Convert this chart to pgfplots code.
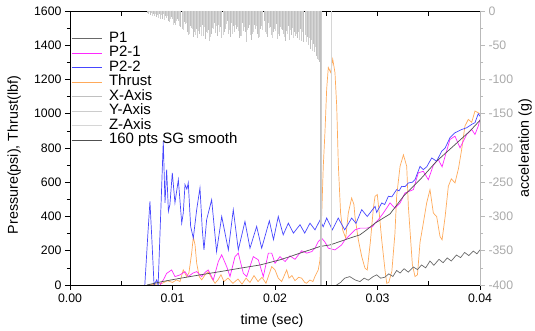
\documentclass[border=0pt]{standalone}
\usepackage{pgfplots}
\pgfplotsset{compat=1.18}
\usepackage{fontspec}
\setmainfont{Liberation Sans}
\definecolor{cPone}{RGB}{105,105,105}
\definecolor{cPtwoone}{RGB}{255,40,255}
\definecolor{cPtwotwo}{RGB}{70,70,255}
\definecolor{cThrust}{RGB}{255,170,90}
\definecolor{cX}{RGB}{192,192,192}
\definecolor{cY}{RGB}{204,204,204}
\definecolor{cZ}{RGB}{214,214,214}
\definecolor{cSG}{RGB}{80,80,80}
\definecolor{cRax}{RGB}{185,185,185}
\definecolor{cRlab}{RGB}{170,170,170}
\newcommand{\tickfont}{\fontsize{12.3}{14}\selectfont}
\newcommand{\labfont}{\fontsize{14.3}{16}\selectfont}
\begin{document}
\begin{tikzpicture}
\pgfplotsset{
  base/.style={scale only axis, width=410pt, height=274pt, xmin=0, xmax=0.04,
    axis line style={-, line width=0.8pt}, scaled x ticks=false},
}
% ---------------- main (left) axis ----------------
\begin{axis}[base, ymin=0, ymax=1600,
  /pgf/number format/assume math mode=true, /pgf/number format/1000 sep={},
  axis x line*=bottom, axis y line*=left,
  xtick={0,0.01,0.02,0.03,0.04},
  xticklabels={0.00,0.01,0.02,0.03,0.04},
  xticklabel style={font=\tickfont},
  ytick={0,200,400,600,800,1000,1200,1400,1600},
  yticklabels={0,200,400,600,800,1000,1200,1400,1600},
  minor ytick={100,300,500,700,900,1100,1300,1500},
  yticklabel style={font=\tickfont},
  tick align=outside, major tick length=5pt, minor tick length=3pt,
  every tick/.style={black, line width=0.6pt},
  xlabel={time (sec)}, ylabel={Pressure(psi), Thrust(lbf)},
  xlabel style={font=\labfont, at={(axis description cs:0.493,-0.131)}, anchor=center},
  ylabel style={font=\labfont, at={(axis description cs:-0.136,0.474)}, anchor=center},
]
% Thrust
\addplot[color=cThrust, line width=0.7pt] coordinates {
(0.0078,0) (0.0090,10) (0.0095,25) (0.0100,15) (0.0104,30) (0.01073,20) (0.01105,88) (0.01138,49)
(0.0116,70) (0.01187,186) (0.01203,280) (0.0122,234) (0.01236,127) (0.01261,49) (0.01285,30)
(0.01317,59) (0.01349,78) (0.01382,40) (0.01415,10) (0.01444,30) (0.01473,60) (0.01502,20)
(0.01541,40) (0.0159,10) (0.01639,35) (0.01678,5) (0.01717,40) (0.01756,15) (0.01795,55)
(0.01834,20) (0.01873,45) (0.01912,10) (0.01941,60) (0.01968,107) (0.0200,88) (0.02032,40)
(0.02065,20) (0.02114,88) (0.02137,40) (0.02165,55) (0.02195,25) (0.02230,45) (0.02260,40)
(0.02290,15) (0.02309,10) (0.02341,29) (0.02370,20) (0.02390,50) (0.02422,88) (0.02439,147)
(0.02455,400) (0.02471,693) (0.02488,900) (0.02504,1143) (0.02520,1270) (0.02543,1241)
(0.02563,1319) (0.02585,1241) (0.02602,1045) (0.02618,700) (0.02640,420) (0.02660,322)
(0.02690,274) (0.02715,420) (0.02748,508) (0.02770,470) (0.02780,400) (0.02813,264)
(0.02846,166) (0.02878,98) (0.02900,88) (0.02930,250) (0.02960,450) (0.02976,518)
(0.02998,528) (0.03017,420) (0.03041,264) (0.03073,88) (0.03090,10) (0.03110,15) (0.03140,80)
(0.03170,300) (0.03187,520) (0.03220,693) (0.03253,760) (0.03285,693) (0.03301,459)
(0.03340,120) (0.03366,49) (0.03390,60) (0.03415,250) (0.03447,361) (0.03480,480)
(0.03512,557) (0.03545,420) (0.03577,400) (0.03610,283) (0.03630,264) (0.03660,400)
(0.03691,576) (0.03720,620) (0.03756,596) (0.03790,680) (0.03821,791) (0.03853,928)
(0.03886,967) (0.03919,950) (0.03951,1016) (0.0400,1000)
};
% P2-1
\addplot[color=cPtwoone, line width=0.7pt] coordinates {
(0.0088,0) (0.0092,40) (0.00943,68) (0.00992,88) (0.01024,49) (0.01073,59) (0.01122,78)
(0.01154,49) (0.01200,70) (0.01236,78) (0.01285,49) (0.01320,75) (0.01349,88) (0.01398,29)
(0.01447,137) (0.0148,176) (0.01529,107) (0.01561,49) (0.0161,166) (0.01642,186) (0.01691,68)
(0.01724,49) (0.01788,166) (0.01837,147) (0.01886,49) (0.01935,186) (0.01968,186) (0.0200,127)
(0.02049,166) (0.02098,137) (0.02146,170) (0.02195,150) (0.02260,200) (0.02309,186)
(0.02358,195) (0.02390,215) (0.02423,254) (0.02455,274) (0.02488,250) (0.02520,215)
(0.02585,205) (0.02650,234) (0.02683,264) (0.02715,283) (0.02748,303) (0.02780,322)
(0.02829,332) (0.02894,332) (0.02950,340) (0.02976,361) (0.03008,381) (0.03057,420)
(0.03122,479) (0.03171,449) (0.03220,479) (0.03268,537) (0.03350,557) (0.03398,655)
(0.03447,664) (0.03496,615) (0.03545,700) (0.03593,733) (0.03630,690) (0.03707,850)
(0.03756,869) (0.03805,801) (0.03870,879) (0.03919,908) (0.03951,879) (0.03983,928) (0.0400,967)
};
% P2-2
\addplot[color=cPtwotwo, line width=0.7pt] coordinates {
(0.0073,0) (0.0076,300) (0.0078,488) (0.0080,250) (0.0082,0) (0.00845,30) (0.0086,0)
(0.0089,500) (0.0091,840) (0.00927,480) (0.00943,674) (0.0096,430) (0.00975,470)
(0.00998,655) (0.01024,480) (0.01057,615) (0.0109,361) (0.01105,420) (0.01122,586)
(0.0114,560) (0.01154,596) (0.01177,342) (0.01203,274) (0.01236,440) (0.01268,567)
(0.0129,330) (0.01307,205) (0.01333,381) (0.01382,498) (0.0143,195) (0.0148,400)
(0.01545,205) (0.01593,440) (0.01642,205) (0.01707,371) (0.01756,215) (0.01821,342)
(0.0187,215) (0.01945,375) (0.01985,265) (0.02032,400) (0.0208,293) (0.0213,361)
(0.0218,303) (0.02244,352) (0.0229,303) (0.02341,361) (0.0239,322) (0.0244,380)
(0.0247,340) (0.02504,391) (0.0256,322) (0.02617,391) (0.0268,322) (0.02748,391)
(0.0279,360) (0.02846,440) (0.029,400) (0.02976,459) (0.02992,424) (0.03041,479)
(0.0307,470) (0.03106,518) (0.0314,515) (0.03187,557) (0.0321,550) (0.03236,576)
(0.0327,575) (0.03301,596) (0.0334,600) (0.03366,615) (0.03415,693) (0.03447,674)
(0.0348,690) (0.03529,742) (0.03577,723) (0.03626,781) (0.0366,800) (0.03707,860)
(0.03756,889) (0.03821,908) (0.0387,918) (0.03919,938) (0.03951,948) (0.03983,1000) (0.0400,985)
};
% P1
\addplot[color=cPone, line width=0.7pt] coordinates {
(0.0260,0) (0.0264,15) (0.0268,40) (0.0273,49) (0.0278,30) (0.02829,20) (0.0287,40)
(0.0291,28) (0.0296,50) (0.02992,59) (0.0303,40) (0.0307,45) (0.0311,65) (0.0315,50)
(0.03187,85) (0.0322,70) (0.0326,95) (0.0330,75) (0.0335,105) (0.0339,90) (0.0343,117)
(0.0347,100) (0.03512,140) (0.0355,115) (0.0360,150) (0.0364,130) (0.0368,158) (0.0372,140)
(0.0377,175) (0.0381,160) (0.0385,190) (0.0389,172) (0.03935,198) (0.0397,182) (0.0400,205)
};
% 160 pts SG smooth
\addplot[color=cSG, line width=0.7pt] coordinates {
(0.0075,0) (0.0090,20) (0.01073,39) (0.01268,59) (0.01463,78) (0.01659,98) (0.01854,117)
(0.02049,147) (0.02146,166) (0.02244,186) (0.02341,205) (0.02439,225) (0.02537,234)
(0.02634,254) (0.02732,274) (0.02829,293) (0.02894,322) (0.02976,361) (0.03057,391)
(0.03122,415) (0.03253,518) (0.03415,615) (0.03577,723) (0.0374,811) (0.03902,899) (0.0400,962)
};
\end{axis}
% ---------------- top ticks (inside) ----------------
\begin{axis}[base, ymin=0, ymax=1, axis x line*=top, hide y axis,
  xtick={0,0.005,0.01,0.015,0.02,0.025,0.03,0.035,0.04}, xticklabels={},
  tick align=inside, major tick length=5pt,
  every tick/.style={black, line width=0.6pt}]
\end{axis}
% ---------------- bottom minor ticks (inside) ----------------
\begin{axis}[base, ymin=0, ymax=1, axis x line*=bottom, hide y axis,
  xtick={0.005,0.015,0.025,0.035}, xticklabels={},
  tick align=inside, major tick length=4pt,
  every tick/.style={black, line width=0.6pt}]
\end{axis}
% ---------------- right (acceleration) axis ----------------
\begin{axis}[base, ymin=-400, ymax=0, axis x line=none, axis y line*=right,
  y axis line style={color=cRax},
  ytick={-400,-350,-300,-250,-200,-150,-100,-50,0},
  yticklabels={-400,-350,-300,-250,-200,-150,-100,-50,0},
  minor ytick={-375,-325,-275,-225,-175,-125,-75,-25},
  tick align=outside, major tick length=5pt, minor tick length=3pt,
  every tick/.style={cRax, line width=0.6pt},
  yticklabel style={font=\tickfont, color=cRlab},
  ylabel={acceleration (g)},
  ylabel style={font=\labfont, at={(axis description cs:1.110,0.5)}, anchor=center},
  legend style={at={(axis description cs:0,1)}, xshift=1pt, yshift=-20pt, anchor=north west,
    draw=none, fill=none, inner sep=0pt, font=\fontsize{15}{17}\selectfont, row sep=-0.5pt,
    nodes={inner ysep=0pt, inner xsep=2pt, text height=11pt, text depth=4pt},
    /tikz/every odd column/.append style={column sep=5pt}},
  legend cell align=left,
  legend image code/.code={\draw[#1] (0pt,0pt) -- (30pt,0pt);},
]
\coordinate (AXa) at (rel axis cs:0,0);
\coordinate (AXb) at (rel axis cs:1,1);
% X-Axis
\addplot[ycomb, color=cX, line width=0.45pt, forget plot] coordinates {
(0.0075,-3) (0.0078,-6) (0.0081,-4) (0.0084,-9) (0.0087,-5) (0.0090,-11) (0.0093,-7) (0.0096,-14)
(0.0099,-9) (0.0102,-18) (0.0105,-12) (0.0108,-24) (0.0111,-16) (0.0114,-30) (0.0117,-22)
(0.0120,-38) (0.0123,-26) (0.0126,-34) (0.0129,-20) (0.0132,-41) (0.0135,-28) (0.0138,-33)
(0.0141,-18) (0.0144,-36) (0.0147,-24) (0.0150,-30) (0.0153,-14) (0.0156,-38) (0.0159,-22)
(0.0162,-27) (0.0165,-40) (0.0168,-18) (0.0171,-31) (0.0174,-25) (0.0177,-42) (0.0180,-20)
(0.0183,-34) (0.0186,-27) (0.0189,-15) (0.0192,-38) (0.0195,-24) (0.0198,-30) (0.0201,-19)
(0.0204,-36) (0.0207,-28) (0.0210,-44) (0.0213,-22) (0.0216,-35) (0.0219,-30) (0.0222,-40)
(0.0225,-26) (0.0228,-46) (0.0231,-38) (0.0234,-55) (0.0237,-48) (0.0240,-66) (0.0243,-75)
(0.02446,-1000)
};
% Y-Axis
\addplot[ycomb, color=cY, line width=0.45pt, forget plot] coordinates {
(0.0076,-5) (0.0079,-3) (0.0082,-8) (0.0085,-6) (0.0088,-12) (0.0091,-4) (0.0094,-10)
(0.0097,-16) (0.0100,-11) (0.0103,-21) (0.0106,-14) (0.0109,-27) (0.0112,-19) (0.0115,-35)
(0.0118,-25) (0.0121,-31) (0.0124,-40) (0.0127,-23) (0.0130,-36) (0.0133,-30) (0.0136,-44)
(0.0139,-25) (0.0142,-32) (0.0145,-20) (0.0148,-39) (0.0151,-27) (0.0154,-33) (0.0157,-17)
(0.0160,-30) (0.0163,-23) (0.0166,-36) (0.0169,-29) (0.0172,-45) (0.0175,-21) (0.0178,-33)
(0.0181,-26) (0.0184,-40) (0.0187,-22) (0.0190,-31) (0.0193,-18) (0.0196,-35) (0.0199,-27)
(0.0202,-41) (0.0205,-24) (0.0208,-33) (0.0211,-29) (0.0214,-42) (0.0217,-25) (0.0220,-37)
(0.0223,-31) (0.0226,-44) (0.0229,-35) (0.0232,-50) (0.0235,-42) (0.0238,-60) (0.0241,-70)
(0.02452,-1000)
};
% Z-Axis
\addplot[ycomb, color=cZ, line width=0.45pt, forget plot] coordinates {
(0.0077,-2) (0.0080,-7) (0.0083,-4) (0.0086,-10) (0.0089,-6) (0.0092,-13) (0.0095,-8)
(0.0098,-12) (0.0101,-20) (0.0104,-15) (0.0107,-22) (0.0110,-28) (0.0113,-18) (0.0116,-33)
(0.0119,-27) (0.0122,-35) (0.0125,-29) (0.0128,-37) (0.0131,-24) (0.0134,-32) (0.0137,-38)
(0.0140,-27) (0.0143,-22) (0.0146,-31) (0.0149,-35) (0.0152,-19) (0.0155,-28) (0.0158,-34)
(0.0161,-21) (0.0164,-29) (0.0167,-37) (0.0170,-24) (0.0173,-28) (0.0176,-35) (0.0179,-30)
(0.0182,-22) (0.0185,-38) (0.0188,-28) (0.0191,-33) (0.0194,-25) (0.0197,-39) (0.0200,-29)
(0.0203,-34) (0.0206,-26) (0.0209,-38) (0.0212,-33) (0.0215,-28) (0.0218,-39) (0.0221,-34)
(0.0224,-42) (0.0227,-30) (0.0230,-45) (0.0233,-40) (0.0236,-58) (0.0239,-52) (0.0242,-72)
(0.02546,-1000)
};
\addlegendimage{color=cPone, line width=0.8pt}
\addlegendentry{P1}
\addlegendimage{color=cPtwoone, line width=0.8pt}
\addlegendentry{P2-1}
\addlegendimage{color=cPtwotwo, line width=0.8pt}
\addlegendentry{P2-2}
\addlegendimage{color=cThrust, line width=0.8pt}
\addlegendentry{Thrust}
\addlegendimage{color=cX, line width=0.8pt}
\addlegendentry{X-Axis}
\addlegendimage{color=cY, line width=0.8pt}
\addlegendentry{Y-Axis}
\addlegendimage{color=cZ, line width=0.8pt}
\addlegendentry{Z-Axis}
\addlegendimage{color=cSG, line width=0.8pt}
\addlegendentry{160 pts SG smooth}
\end{axis}
\pgfresetboundingbox
\useasboundingbox ([xshift=-70pt,yshift=-46pt]AXa) rectangle ([xshift=55pt,yshift=11pt]AXb);
\end{tikzpicture}
\end{document}
